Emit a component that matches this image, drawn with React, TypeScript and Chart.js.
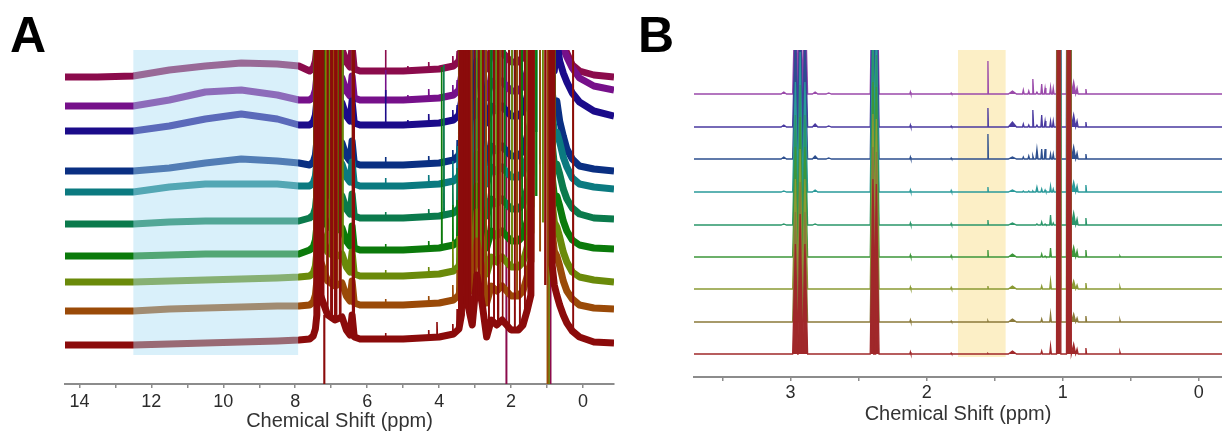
import React, { useEffect, useRef } from 'react';
import { Chart, registerables } from 'chart.js';
Chart.register(...registerables);

const FONT = '"Liberation Sans", Arial, sans-serif';
const OFF = 999; // peak runs off the top of the plot

// ---------------- Panel A (stacked 1H spectra, wide window) ----------------
const A_TICKS = [14, 13, 12, 11, 10, 9, 8, 7, 6, 5, 4, 3, 2, 1, 0];
const A_MAX = 14.4;
const A_MIN = -0.86;
const A_YMAX = 334;
// traces listed bottom -> top
const A_COLORS = ['#8b0b0b', '#9a4a08', '#6a8a0a', '#0b7a0b', '#0b7a4c', '#0b7a80', '#0a2f82', '#1b0b8a', '#76108a', '#8b0b4c'];
const A_BASE = [39, 73, 102, 128, 160, 192, 213, 253, 278, 307];
const A_LEFT_PPM = [14.4, 13.5, 12.5, 11.5, 10.5, 9.5, 8.5, 7.9];
const A_LEFT = [
  [0, 0, 0, 1, 2, 3, 4, 5],
  [0, 0, 0, 2, 3, 4, 5, 5],
  [0, 0, 0, 1, 2, 3, 4, 5],
  [0, 0, 0, 1, 2, 2, 2, 2],
  [0, 0, 0, 2, 3, 3, 3, 3],
  [0, 0, 0, 5, 8, 8, 8, 6],
  [0, 0, 0, 3, 8, 12, 10, 8],
  [0, 0, 0, 5, 12, 17, 12, 6],
  [0, 0, 0, 6, 14, 16, 11, 6],
  [0, 0, 1, 7, 11, 14, 13, 11],
];
const A_MID_PPM = [7.6, 7.5, 7.44, 7.4, 7.37, 7.3, 7.1, 6.9, 6.7, 6.58, 6.48, 6.42, 6.36, 6.2, 5.0, 4.0, 3.6, 3.45, 3.38, 3.32, 3.2, 3.08, 2.95, 2.8, 2.68, 2.55, 2.4, 2.25, 2.0, 1.8, 1.67, 1.55, 1.45, 1.4, 0.9, 0.86, 0.8];
const A_MID = [6, 9, 16, 30, OFF, 50, 30, 25, 28, 15, 10, 30, 8, 6, 6, 8, 11, 16, 30, OFF, 40, 20, 70, 40, 8, 25, 20, 25, 15, 15, 20, 35, 50, OFF, OFF, 80, 60];
const A_TAIL_PPM = [0.73, 0.65, 0.55, 0.45, 0.3, 0.1, -0.3, -0.86];
const A_TAIL = [
  [50, 40, 30, 22, 14, 8, 3, 2],
  [55, 45, 30, 20, 12, 6, 3, 2],
  [55, 45, 30, 20, 10, 5, 2, 0],
  [60, 50, 35, 25, 16, 11, 8, 7],
  [60, 50, 35, 25, 16, 10, 6, 5],
  [60, 50, 35, 25, 14, 8, 5, 3],
  [70, 50, 35, 22, 12, 5, 2, 0],
  [90, 70, 58, 49, 38, 29, 20, 15],
  [90, 70, 58, 49, 38, 28, 20, 16],
  [70, 45, 32, 24, 12, 6, 2, 0],
];
const A_STICK_PPM = [
  7.36, 7.33, 7.3, 7.27, 7.24, 7.22, 7.19, 7.16, 7.13, 7.1, 7.07, 7.04, 7.01, 6.98, 6.95, 6.92, 6.89, 6.86, 6.83, 6.8, 6.77, 6.74, 6.71, 6.68, 6.41, 6.37,
  5.49, 4.87, 4.29, 4.06, 3.93, 3.87, 3.62, 3.5,
  3.3, 3.24, 3.16, 3.1, 3.02, 2.96, 2.9, 2.84, 2.78, 2.7, 2.62, 2.55, 2.48, 2.42, 2.36, 2.3, 2.24, 2.18, 2.13,
  2.06, 1.98, 1.9, 1.84, 1.76, 1.7, 1.62, 1.56, 1.5,
  1.3, 1.2, 1.12, 1.05, 0.99, 0.95, 0.91, 0.28,
];
const A_STICK_FOOT = [
  70, 60, 50, 45, 40, 35, 30, 30, 30, 30, 28, 27, 26, 25, 25, 25, 25, 26, 26, 27, 27, 28, 25, 22, 20, 15,
  6, 6, 7, 8, 9, 9, 11, 16,
  40, 45, 30, 20, 40, 60, 50, 40, 30, 10, 15, 25, 22, 20, 20, 22, 25, 20, 20,
  15, 15, 15, 15, 15, 18, 25, 32, 45,
  60, 60, 60, 60, OFF, OFF, OFF, 14,
];
const A_STICK_H = [
  [OFF, 0, 0, OFF, 0, 0, OFF, 0, 0, OFF],
  [0, OFF, 0, 0, OFF, 0, 0, OFF, 0, 0],
  [OFF, 0, OFF, 0, 0, OFF, 0, 0, OFF, 0],
  [0, OFF, 0, OFF, 0, 0, OFF, 0, 0, OFF],
  [0, 0, OFF, 0, 0, OFF, 0, 0, OFF, 0],
  [OFF, 0, 0, 0, OFF, 0, 0, OFF, 0, 0],
  [-OFF, 0, 0, OFF, 0, 0, 0, 0, 0, 0],
  [0, 0, OFF, 0, 0, OFF, 0, 0, OFF, 0],
  [0, OFF, 0, 0, OFF, 0, OFF, 0, 0, 0],
  [OFF, OFF, 0, OFF, 0, 0, OFF, 0, 0, 0],
  [0, 0, 0, 0, OFF, 0, 0, OFF, 0, OFF],
  [0, 0, OFF, 0, OFF, 0, 0, OFF, 0, OFF],
  [OFF, 0, 0, OFF, 0, 0, 0, 0, OFF, 0],
  [OFF, 0, 0, OFF, 0, OFF, 0, 0, OFF, 0],
  [0, OFF, OFF, 0, 0, 0, OFF, 0, 0, 0],
  [0, OFF, 0, 0, OFF, 0, OFF, 0, 0, 0],
  [OFF, 0, 0, OFF, 0, 0, 0, OFF, 0, 0],
  [OFF, 0, OFF, 0, 0, 0, 0, OFF, 0, OFF],
  [0, OFF, 0, 0, OFF, OFF, 0, 0, 0, 0],
  [0, 0, 0, OFF, 0, OFF, 0, 0, OFF, 0],
  [OFF, 0, OFF, 0, 0, 0, OFF, 0, 0, 0],
  [OFF, OFF, 0, 0, OFF, 0, OFF, 0, 0, 0],
  [0, 0, 0, OFF, 0, 0, 0, OFF, 0, 0],
  [0, 0, OFF, 0, 0, 0, 0, OFF, 0, OFF],
  [OFF, OFF, OFF, 0, 0, 0, 0, 0, 0, 0],
  [OFF, 0, 0, OFF, OFF, 0, 0, 0, 0, 0],
  [6, 6, 6, 6, 6, 8, 8, 35, 30, OFF],
  [3, 3, 3, 3, 3, 3, 3, 5, 5, 5],
  [8, 8, 8, 8, 8, 10, 8, 10, 10, 8],
  [15, 0, 0, 0, 0, 0, 0, 0, 0, 0],
  [0, 0, 0, 180, 0, 0, 0, 0, 0, 0],
  [0, 0, 0, 0, 150, 0, 0, 0, 0, 0],
  [10, 15, 30, 40, 30, 20, 10, 10, 10, 10],
  [20, 25, 30, 40, 40, 30, 15, 10, 10, 10],
  [OFF, 0, 0, OFF, 0, 0, OFF, 0, 0, OFF],
  [0, OFF, 0, 0, OFF, 0, 0, OFF, 0, 0],
  [OFF, 0, OFF, 0, 0, OFF, 0, 0, OFF, 0],
  [0, OFF, 0, OFF, 0, 0, OFF, 0, 0, OFF],
  [OFF, 0, 0, 0, OFF, 0, 0, OFF, 0, 0],
  [0, 0, OFF, 0, 0, OFF, 0, 0, OFF, 0],
  [OFF, OFF, 0, OFF, 0, 0, OFF, 0, 0, 0],
  [0, 0, OFF, 0, OFF, 0, 0, OFF, 0, OFF],
  [OFF, 0, 0, OFF, 0, OFF, 0, 0, OFF, 0],
  [0, OFF, 0, 0, OFF, 0, OFF, 0, 0, 0],
  [OFF, 0, OFF, 0, 0, 0, 0, OFF, 0, OFF],
  [0, 0, 0, OFF, 0, OFF, 0, 0, OFF, 0],
  [OFF, OFF, 0, 0, OFF, 0, OFF, 0, 0, 0],
  [0, 0, OFF, 0, 0, 0, 0, OFF, 0, OFF],
  [OFF, 0, 0, OFF, 0, OFF, 0, 0, OFF, 0],
  [0, OFF, 0, 0, OFF, 0, OFF, 0, 0, 0],
  [OFF, 0, OFF, 0, 0, 0, 0, OFF, 0, OFF],
  [0, 0, 0, OFF, 0, OFF, 0, 0, OFF, 0],
  [0, 0, 0, 0, 0, 0, 0, 0, 0, -OFF],
  [OFF, OFF, 0, 0, OFF, 0, OFF, 0, 0, 0],
  [0, 0, OFF, 0, 0, 0, 0, OFF, 0, OFF],
  [OFF, 0, 0, OFF, 0, OFF, 0, 0, OFF, 0],
  [0, OFF, 0, 0, OFF, 0, OFF, 0, 0, 0],
  [OFF, 0, OFF, 0, 0, 0, 0, OFF, 0, OFF],
  [0, 0, 0, OFF, 0, OFF, 0, 0, OFF, 0],
  [OFF, OFF, 0, 0, OFF, 0, OFF, 0, 0, 0],
  [0, 0, OFF, 0, 0, 0, 0, OFF, 0, OFF],
  [OFF, 0, 0, OFF, 0, OFF, 0, 0, OFF, 0],
  [0, 0, 0, OFF, 0, OFF, 0, 0, 0, 0],
  [0, OFF, 0, 0, OFF, 0, 0, 0, 0, 0],
  [0, 0, OFF, 0, 0, 0, 0, 0, 0, 0],
  [OFF, 0, 0, 0, 0, 0, 0, 0, 0, 0],
  [0, -2000, 0, 0, 0, 0, 0, 0, 0, 0],
  [0, 0, -2000, 0, 0, 0, 0, 0, 0, 0],
  [0, 0, 0, 0, 0, 0, 0, 0, 0, -2000],
  [OFF, OFF, 0, 0, 0, 0, 0, 0, 0, 0],
];
const A_HIGHLIGHT = [12.5, 7.92];
const A_HIGHLIGHT_FLOOR = 29;

// ---------------- Panel B (stacked 1H spectra, zoomed window) ----------------
const B_TICKS = [3.5, 3, 2.5, 2, 1.5, 1, 0.5, 0];
const B_MAX = 3.71;
const B_MIN = -0.17;
const B_YMAX = 327;
const B_COLORS = ['#a0282a', '#8a7a3a', '#8a9a34', '#3d963a', '#2a966a', '#2a9a9a', '#2d4f8e', '#4a3aa0', '#9a4aaa'];
const B_BASE = [23, 55, 88, 120, 152, 185, 218, 250, 283];
const B_PEAK_PPM = [3.05, 2.965, 2.93, 2.895, 2.82, 2.72, 2.395, 2.37, 2.12, 1.82, 1.55, 1.37, 1.29, 1.25, 1.22, 1.19, 1.155, 1.13, 1.09, 1.07, 1.03, 0.955, 0.92, 0.895, 0.83, 0.58];
const B_PEAK_W = [0.02, 0.02, 0.018, 0.02, 0.02, 0.02, 0.02, 0.02, 0.004, 0.004, 0.003, 0.03, 0.006, 0.006, 0.006, 0.008, 0.006, 0.006, 0.006, 0.006, 0.016, 0.018, 0.015, 0.008, 0.005, 0.004];
const B_PEAK_H = [
  [0, 0, 0, 0, 1, 1, 2, 2, 2],
  [110, 110, 110, 110, 110, 110, 110, 110, 110],
  [140, 140, 140, 140, 140, 140, 140, 140, 140],
  [110, 110, 110, 110, 110, 110, 110, 110, 110],
  [0, 0, 0, 0, 1, 2, 3, 3, 2],
  [0, 0, 0, 0, 0, 0, 1, 1, 1],
  [175, 175, 175, 175, 175, 175, 175, 175, 175],
  [170, 170, 170, 170, 170, 170, 170, 170, 170],
  [2, 2, 2, 2, 2, 2, 2, 2, 2],
  [1, 1, 1.5, 1.5, 1.5, 1.5, 1, 1, 1],
  [0.5, 1, 3, 7, 5, 5, 25, 19, 33],
  [3, 3, 3, 3, 2, 2, 2, 5, 3],
  [0, 0, 0, 0, 0, 1, 2, 3, 4],
  [0, 0, 0, 0, 0, 1, 3, 2, 3],
  [0, 0, 0, 0, 0, 1, 3, 17, 15],
  [0, 0, 0, 0, 1, 5, 10, 2, 2],
  [3, 3, 3, 3, 3, 3, 10, 12, 10],
  [0, 0, 0, 1, 1, 2, 10, 6, 6],
  [8, 8, 8, 9, 10, 6, 5, 6, 7],
  [0, 0, 0, 0, 2, 3, 5, 6, 6],
  [OFF, OFF, OFF, OFF, OFF, OFF, OFF, OFF, OFF],
  [OFF, OFF, OFF, OFF, OFF, OFF, OFF, OFF, OFF],
  [10, 8, 8, 10, 12, 10, 12, 12, 12],
  [5, 4, 4, 6, 6, 6, 6, 6, 6],
  [6, 6, 6, 7, 7, 7, 5, 5, 5],
  [2, 2, 2, 1, 0, 0, 0, 0, 0],
];
const B_HIGHLIGHT = [1.77, 1.42];
const B_HIGHLIGHT_FLOOR = 20;

// ---------------- helpers ----------------
function aBand(i: number) {
  return [
    ...A_LEFT_PPM.map((p, k) => ({ x: p, y: A_BASE[i] + A_LEFT[i][k] })),
    ...A_MID_PPM.map((p, k) => ({ x: p, y: A_BASE[i] + A_MID[k] })),
    ...A_TAIL_PPM.map((p, k) => ({ x: p, y: A_BASE[i] + A_TAIL[i][k] })),
  ];
}
function aSticks(i: number) {
  const pts: any[] = [];
  A_STICK_PPM.forEach((p, k) => {
    const h = A_STICK_H[k][i];
    if (!h) return;
    const foot = A_BASE[i] + A_STICK_FOOT[k];
    pts.push({ x: p + 0.01, y: foot }, { x: p, y: foot + h }, { x: p - 0.01, y: foot }, { x: p - 0.011, y: null });
  });
  return pts;
}
function bTrace(i: number) {
  const base = B_BASE[i];
  const pts: any[] = [{ x: B_MAX, y: base }];
  B_PEAK_PPM.forEach((p, k) => {
    const h = B_PEAK_H[k][i];
    if (!h) return;
    const w = B_PEAK_W[k];
    pts.push({ x: p + w, y: base }, { x: p, y: base + h }, { x: p - w, y: base });
  });
  pts.push({ x: B_MIN, y: base });
  return pts;
}

function xAxis(min: number, max: number, ticks: number[], height: number, labelEvery: number, pad: number, titleBottom: number) {
  return {
    type: 'linear',
    reverse: true,
    min,
    max,
    afterBuildTicks: (s: any) => { s.ticks = ticks.map((v) => ({ value: v })); },
    afterFit: (s: any) => { s.height = height; },
    ticks: {
      autoSkip: false,
      maxRotation: 0,
      padding: pad,
      color: '#2b2b2b',
      font: { family: FONT, size: 18 },
      callback: (v: any) => (Math.abs(v / labelEvery - Math.round(v / labelEvery)) < 1e-6 ? String(v) : ''),
    },
    grid: { display: true, drawOnChartArea: false, drawTicks: true, tickLength: 4, color: '#8c8c8c', lineWidth: 1.5 },
    border: { display: true, color: '#8c8c8c', width: 2 },
    title: { display: true, text: 'Chemical Shift (ppm)', color: '#333', font: { family: FONT, size: 20 }, padding: { top: 0, bottom: titleBottom } },
  };
}

function regionPlugin(id: string, range: number[], floor: number, color: string, after: boolean) {
  const draw = (chart: any) => {
    const { ctx, chartArea, scales } = chart;
    const x1 = scales.x.getPixelForValue(range[0]);
    const x2 = scales.x.getPixelForValue(range[1]);
    const y2 = scales.y.getPixelForValue(floor);
    ctx.save();
    ctx.fillStyle = color;
    ctx.fillRect(Math.min(x1, x2), chartArea.top, Math.abs(x2 - x1), y2 - chartArea.top);
    ctx.restore();
  };
  return after ? { id, afterDatasetsDraw: draw } : { id, beforeDatasetsDraw: draw };
}

function configA(): any {
  const datasets: any[] = [];
  A_BASE.forEach((_, i) => {
    datasets.push({ data: aSticks(i), borderColor: A_COLORS[i], borderWidth: 1.6, pointRadius: 0, tension: 0, spanGaps: false, clip: 0 });
    datasets.push({ data: aBand(i), borderColor: A_COLORS[i], borderWidth: 7, borderJoinStyle: 'round', pointRadius: 0, tension: 0, clip: 0 });
  });
  return {
    type: 'line',
    data: { datasets },
    options: {
      animation: false,
      responsive: false,
      events: [],
      layout: { padding: { left: 65, right: 6, top: 50, bottom: 0 } },
      plugins: { legend: { display: false }, tooltip: { enabled: false } },
      scales: {
        x: xAxis(A_MIN, A_MAX, A_TICKS, 51, 2, 3, 2),
        y: { display: false, min: 0, max: A_YMAX },
      },
    },
    plugins: [regionPlugin('aRegion', A_HIGHLIGHT, A_HIGHLIGHT_FLOOR, 'rgba(170,222,245,0.45)', true)],
  };
}

function configB(): any {
  const datasets = B_BASE.map((base, i) => ({
    data: bTrace(i),
    borderColor: B_COLORS[i],
    backgroundColor: B_COLORS[i],
    fill: { value: base },
    borderWidth: 1.3,
    pointRadius: 0,
    tension: 0,
    clip: 0,
  }));
  return {
    type: 'line',
    data: { datasets },
    options: {
      animation: false,
      responsive: false,
      events: [],
      layout: { padding: { left: 74, right: 0, top: 50, bottom: 0 } },
      plugins: { legend: { display: false }, tooltip: { enabled: false } },
      scales: {
        x: xAxis(B_MIN, B_MAX, B_TICKS, 58, 1, 1, 9),
        y: { display: false, min: 0, max: B_YMAX },
      },
    },
    plugins: [regionPlugin('bRegion', B_HIGHLIGHT, B_HIGHLIGHT_FLOOR, '#fcefc6', false)],
  };
}

export default function App() {
  const refA = useRef<HTMLCanvasElement>(null);
  const refB = useRef<HTMLCanvasElement>(null);
  useEffect(() => {
    const a = new Chart(refA.current as HTMLCanvasElement, configA());
    const b = new Chart(refB.current as HTMLCanvasElement, configB());
    return () => { a.destroy(); b.destroy(); };
  }, []);
  const letter: React.CSSProperties = { position: 'absolute', top: 10, font: `bold 50px ${FONT}`, lineHeight: '50px', color: '#000' };
  return (
    <div style={{ position: 'fixed', left: 0, top: 0, width: 1222, height: 435, background: '#fff', overflow: 'hidden' }}>
      <canvas ref={refA} width={620} height={435} style={{ position: 'absolute', left: 0, top: 0 }} />
      <canvas ref={refB} width={602} height={435} style={{ position: 'absolute', left: 620, top: 0 }} />
      <div style={{ ...letter, left: 10 }}>A</div>
      <div style={{ ...letter, left: 638 }}>B</div>
    </div>
  );
}
